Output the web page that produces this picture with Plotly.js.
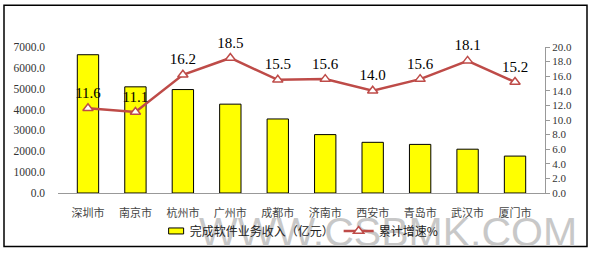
<!DOCTYPE html>
<html>
<head>
<meta charset="utf-8">
<script src="https://cdn.plot.ly/plotly-3.0.1.min.js"></script>
<style>
html,body{margin:0;padding:0;background:#fff;}
#chart{width:591px;height:258px;}
</style>
</head>
<body>
<div id="chart"></div>
<script>
const cities = ["深圳市","南京市","杭州市","广州市","成都市","济南市","西安市","青岛市","武汉市","厦门市"];
const revenue = [6630, 5090, 4960, 4260, 3550, 2800, 2430, 2330, 2100, 1770];
const growth = [11.6, 11.1, 16.2, 18.5, 15.5, 15.6, 14.0, 15.6, 18.1, 15.2];
const leftTicks = [0,1000,2000,3000,4000,5000,6000,7000];
const rightTicks = [0,2,4,6,8,10,12,14,16,18,20];
const barName = "完成软件业务收入（亿元）";
const lineName = "累计增速%";
const watermark = "WWW.CSBMK.COM";

const numFont = "Liberation Serif, DejaVu Serif, serif";
const cjkFont = "Noto Sans CJK SC, sans-serif";

const traces = [
  {
    type: "bar", name: barName, x: cities, y: revenue,
    marker: {color: "#FFFF00", line: {color: "#000000", width: 1}},
    width: 0.45, yaxis: "y", hoverinfo: "skip"
  },
  {
    type: "scatter", mode: "lines+markers+text", name: lineName,
    x: cities, y: growth, yaxis: "y2",
    text: growth.map(v => v.toFixed(1)),
    textposition: "top center",
    textfont: {family: numFont, size: 15, color: "#000"},
    line: {color: "#BE4B48", width: 2.5},
    marker: {symbol: "triangle-up", size: 9, color: "#ffffff", line: {color: "#BE4B48", width: 1.5}},
    cliponaxis: false, hoverinfo: "skip"
  }
];

const layout = {
  width: 591, height: 258,
  margin: {l: 58, r: 46, t: 47, b: 61},
  paper_bgcolor: "#fff", plot_bgcolor: "#fff",
  showlegend: true,
  xaxis: {
    type: "category", showgrid: false, zeroline: false,
    showline: true, linecolor: "#999", linewidth: 1,
    ticks: "", tickfont: {family: cjkFont, size: 11, color: "#444"},
    ticklabelstandoff: 10
  },
  yaxis: {
    range: [0, 7000], tickvals: leftTicks, tickformat: ".1f",
    showgrid: false, zeroline: false, showline: false, ticks: "",
    tickfont: {family: numFont, size: 11.5, color: "#333"},
    ticklabelstandoff: 12
  },
  yaxis2: {
    overlaying: "y", side: "right", range: [0, 20], tickvals: rightTicks, tickformat: ".1f",
    showgrid: false, zeroline: false, showline: true, linecolor: "#999", linewidth: 1,
    ticks: "outside", ticklen: 4, tickcolor: "#999",
    tickfont: {family: numFont, size: 11, color: "#333"}
  },
  legend: {
    orientation: "h", x: 0.49, xanchor: "center", y: -0.26, yanchor: "middle",
    font: {family: cjkFont, size: 12, color: "#222"},
    itemwidth: 30, tracegroupgap: 0, bgcolor: "rgba(0,0,0,0)"
  },
  annotations: [
    {
      xref: "paper", yref: "paper", x: (579 - 58) / 487, xanchor: "right",
      y: (197 - 237) / 150, yanchor: "middle", text: watermark, showarrow: false,
      font: {family: "Liberation Sans Narrow, Liberation Sans, Arial, sans-serif", size: 41, color: "#c8c8c8"}
    }
  ],
  shapes: [
    {
      type: "rect", xref: "paper", yref: "paper",
      x0: (4 - 58) / 487, x1: (587 - 58) / 487,
      y0: (197 - 252) / 150, y1: (197 - 4) / 150,
      line: {color: "#000", width: 1.5}, fillcolor: "rgba(0,0,0,0)", layer: "below"
    }
  ]
};

function touchUp(gd) {
  const legend = gd.querySelector("g.legend");
  const ann = gd.querySelector("g.annotation");
  if (legend && ann && legend.parentNode === ann.parentNode && ann.nextSibling !== legend) {
    legend.parentNode.insertBefore(ann, legend);
  }
  const items = gd.querySelectorAll("g.legend g.traces");
  if (items[0]) {
    items[0].querySelectorAll(".legendpoints path").forEach(p => {
      p.setAttribute("d", "M-1,3H14V-3H-1Z");
    });
  }
}

Plotly.newPlot("chart", traces, layout, {displayModeBar: false, staticPlot: true}).then(gd => {
  touchUp(gd);
  setTimeout(() => touchUp(gd), 0);
});
</script>
</body>
</html>
